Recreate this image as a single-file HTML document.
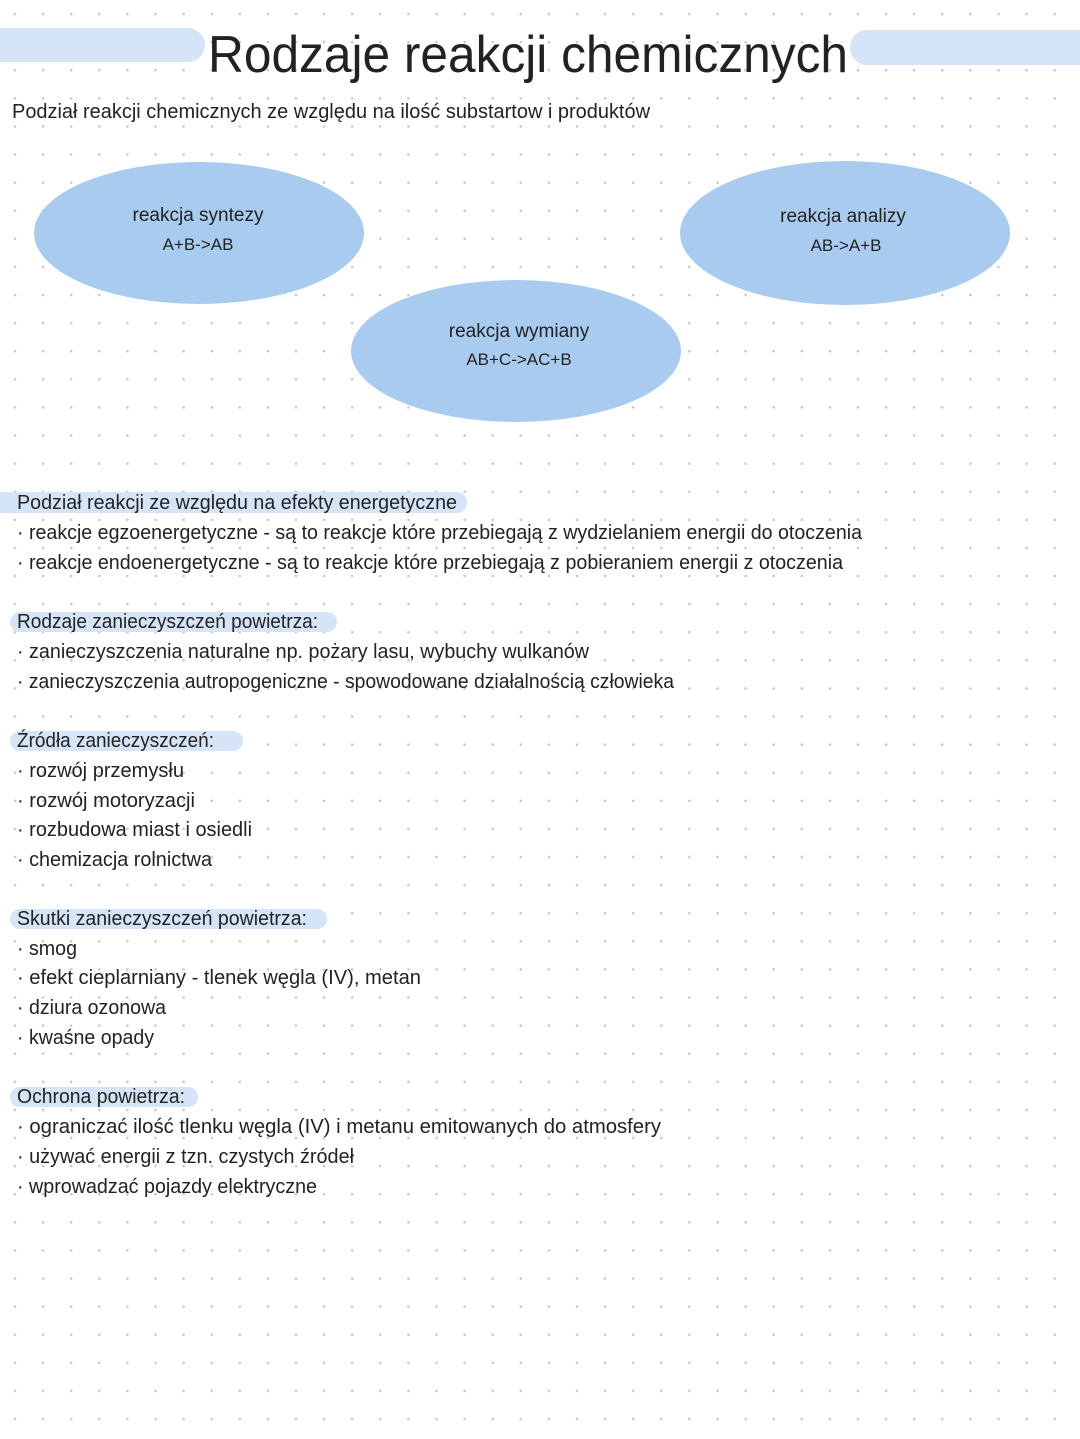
<!DOCTYPE html>
<html><head><meta charset="utf-8"><style>
html,body{margin:0;padding:0;background:#fff}
svg{display:block}
text{font-family:"Liberation Sans",sans-serif;fill:#222}
</style></head><body>
<svg width="1080" height="1439" viewBox="0 0 1080 1439" xmlns="http://www.w3.org/2000/svg">
<defs>
<pattern id="d" x="1" y="0" width="28.1" height="28.1" patternUnits="userSpaceOnUse">
<circle cx="14" cy="14" r="1.3" fill="#c9c9c9"/>
</pattern>
</defs>
<rect width="1080" height="1439" fill="#fff"/>
<rect width="1080" height="1439" fill="url(#d)"/>
<!-- title bars -->
<rect x="-20" y="28" width="225" height="34" rx="17" fill="#d5e5f7"/>
<rect x="850" y="30" width="250" height="35" rx="17" fill="#d5e5f7"/>
<text x="208" y="72" font-size="52" textLength="640" lengthAdjust="spacingAndGlyphs">Rodzaje reakcji chemicznych</text>
<text x="12" y="118" font-size="20" textLength="638" lengthAdjust="spacingAndGlyphs">Podział reakcji chemicznych ze względu na ilość substartow i produktów</text>
<!-- ellipses -->
<ellipse cx="199" cy="233" rx="165" ry="71" fill="#a9cbef"/>
<ellipse cx="845" cy="233" rx="165" ry="72" fill="#a9cbef"/>
<ellipse cx="516" cy="351" rx="165" ry="71" fill="#a9cbef"/>
<g font-size="19" text-anchor="middle">
<text x="198" y="221">reakcja syntezy</text>
<text x="198" y="250" font-size="17">A+B-&gt;AB</text>
<text x="843" y="222">reakcja analizy</text>
<text x="846" y="251" font-size="17">AB-&gt;A+B</text>
<text x="519" y="337">reakcja wymiany</text>
<text x="519" y="365" font-size="17">AB+C-&gt;AC+B</text>
</g>
<!-- header bars -->
<g fill="#d5e5f7">
<rect x="-10" y="492" width="477" height="21" rx="10"/>
<rect x="10" y="612" width="327" height="20" rx="10"/>
<rect x="10" y="731" width="233" height="20" rx="10"/>
<rect x="10" y="909" width="317" height="20" rx="10"/>
<rect x="10" y="1087" width="188" height="20" rx="10"/>
</g>
<g font-size="20" lengthAdjust="spacingAndGlyphs">
<text x="17" y="509" textLength="440" lengthAdjust="spacingAndGlyphs">Podział reakcji ze względu na efekty energetyczne</text>
<text x="17" y="539" textLength="845" lengthAdjust="spacingAndGlyphs">· reakcje egzoenergetyczne - są to reakcje które przebiegają z wydzielaniem energii do otoczenia</text>
<text x="17" y="569" textLength="826" lengthAdjust="spacingAndGlyphs">· reakcje endoenergetyczne - są to reakcje które przebiegają z pobieraniem energii z otoczenia</text>

<text x="17" y="628" textLength="301" lengthAdjust="spacingAndGlyphs">Rodzaje zanieczyszczeń powietrza:</text>
<text x="17" y="658" textLength="572" lengthAdjust="spacingAndGlyphs">· zanieczyszczenia naturalne np. pożary lasu, wybuchy wulkanów</text>
<text x="17" y="688" textLength="657" lengthAdjust="spacingAndGlyphs">· zanieczyszczenia autropogeniczne - spowodowane działalnością człowieka</text>

<text x="17" y="747" textLength="197" lengthAdjust="spacingAndGlyphs">Źródła zanieczyszczeń:</text>
<text x="17" y="777" textLength="167" lengthAdjust="spacingAndGlyphs">· rozwój przemysłu</text>
<text x="17" y="807" textLength="178" lengthAdjust="spacingAndGlyphs">· rozwój motoryzacji</text>
<text x="17" y="836" textLength="235" lengthAdjust="spacingAndGlyphs">· rozbudowa miast i osiedli</text>
<text x="17" y="866" textLength="195" lengthAdjust="spacingAndGlyphs">· chemizacja rolnictwa</text>

<text x="17" y="925" textLength="290" lengthAdjust="spacingAndGlyphs">Skutki zanieczyszczeń powietrza:</text>
<text x="17" y="955" textLength="60" lengthAdjust="spacingAndGlyphs">· smog</text>
<text x="17" y="984" textLength="404" lengthAdjust="spacingAndGlyphs">· efekt cieplarniany - tlenek węgla (IV), metan</text>
<text x="17" y="1014" textLength="149" lengthAdjust="spacingAndGlyphs">· dziura ozonowa</text>
<text x="17" y="1044" textLength="137" lengthAdjust="spacingAndGlyphs">· kwaśne opady</text>

<text x="17" y="1103" textLength="168" lengthAdjust="spacingAndGlyphs">Ochrona powietrza:</text>
<text x="17" y="1133" textLength="644" lengthAdjust="spacingAndGlyphs">· ograniczać ilość tlenku węgla (IV) i metanu emitowanych do atmosfery</text>
<text x="17" y="1163" textLength="337" lengthAdjust="spacingAndGlyphs">· używać energii z tzn. czystych źródeł</text>
<text x="17" y="1193" textLength="300" lengthAdjust="spacingAndGlyphs">· wprowadzać pojazdy elektryczne</text>
</g>
</svg>
</body></html>
